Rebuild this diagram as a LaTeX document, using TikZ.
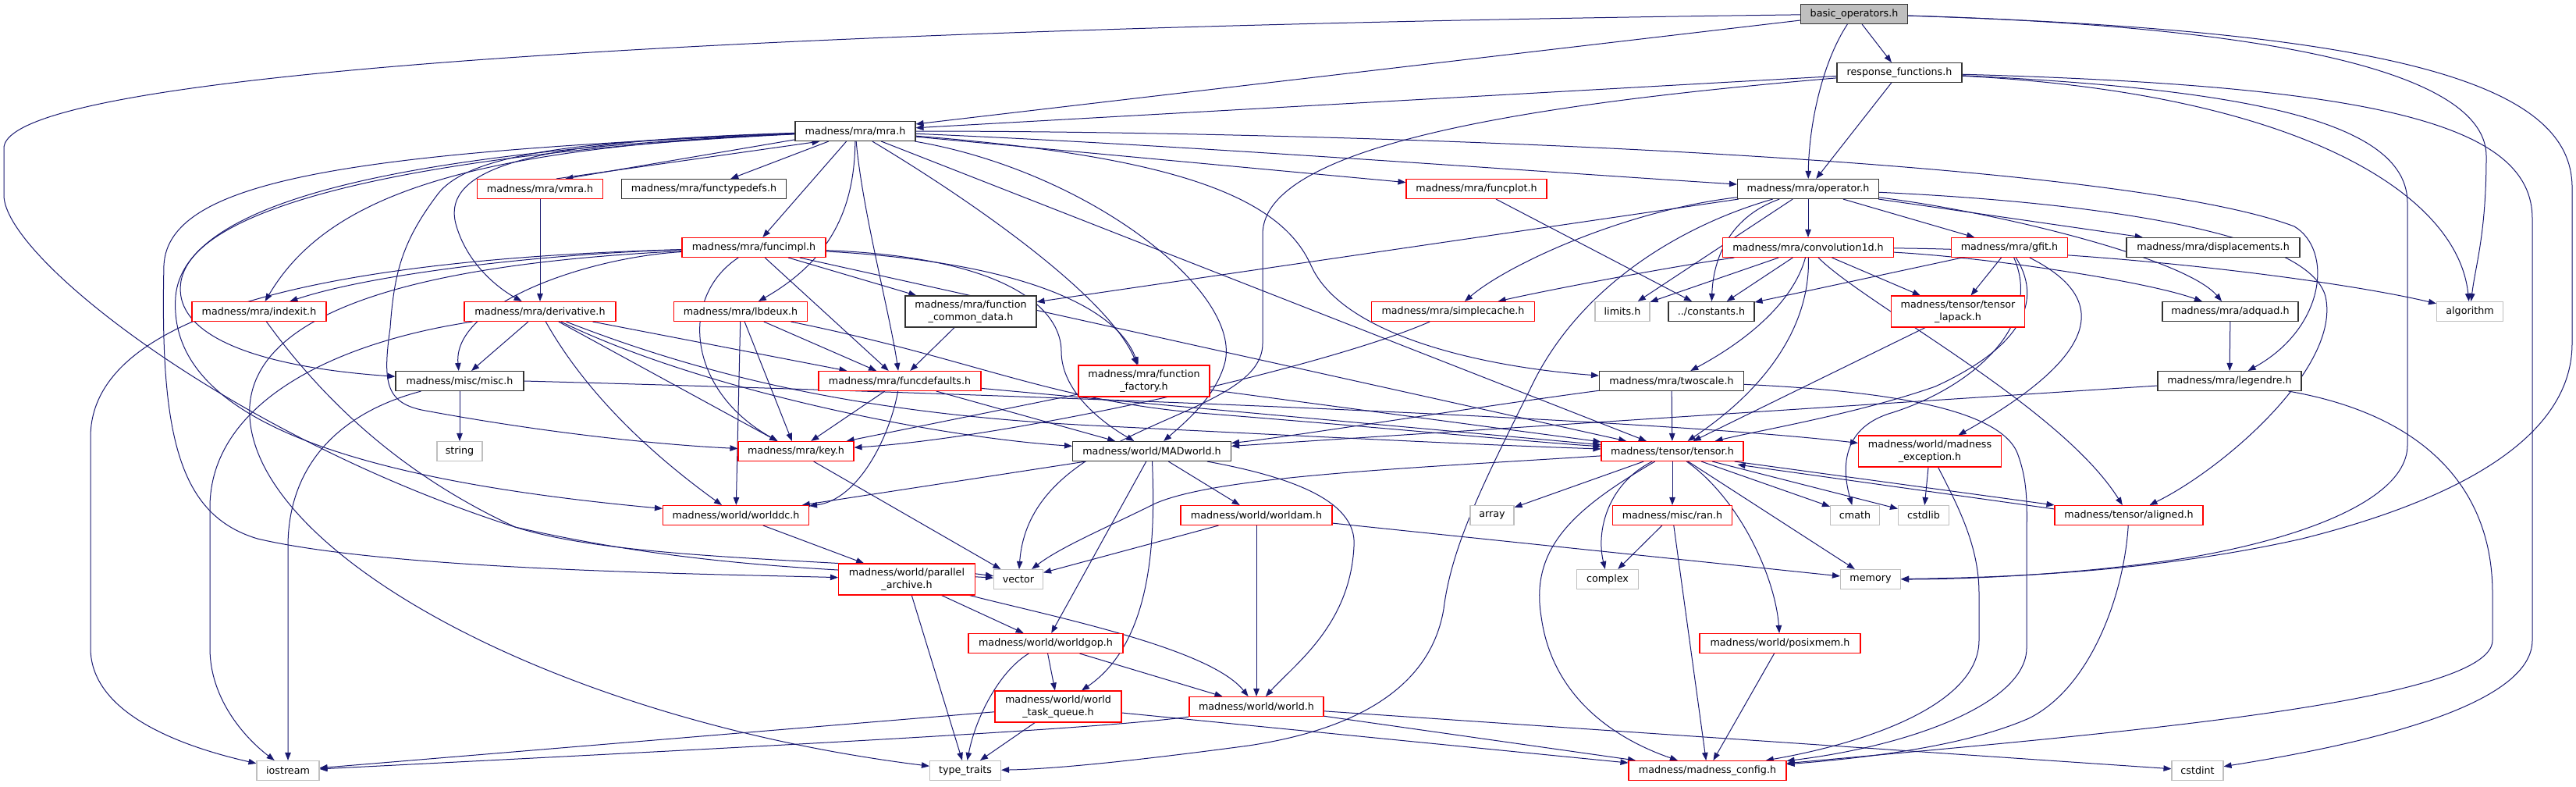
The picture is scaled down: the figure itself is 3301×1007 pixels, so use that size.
\documentclass[tikz,border=0pt]{standalone}
\usepackage{fontspec}
\setmainfont{DejaVu Sans}
\usetikzlibrary{arrows.meta}
\definecolor{edgec}{RGB}{25,25,112}
\definecolor{gsev}{RGB}{191,191,191}
\definecolor{colred}{RGB}{255,0,0}
\pgfdeclarelayer{bg}
\pgfsetlayers{bg,main}
\begin{document}
\begin{tikzpicture}[x=1pt,y=-1pt,
  base/.style={rectangle, inner sep=1pt, minimum height=25pt, line width=1.1pt, fill=white,
    font=\fontsize{12.7}{15.5}\selectfont, align=center},
  nblk/.style={base, draw=black!80},
  nred/.style={base, draw=colred},
  ngry/.style={base, draw=gsev},
  nroot/.style={base, draw=black!80, fill=gsev},
  two/.style={minimum height=40pt},
  edg/.style={draw=edgec, line width=1.0pt, -{Triangle[length=10pt,width=7.5pt]}},
]
\useasboundingbox (0,0) rectangle (3301,1007);
% ---------- nodes ----------
\node[nroot, minimum width=137pt] (bo) at (2376,18) {basic\_operators.h};
\node[nblk, minimum width=160pt] (rf) at (2434,93) {response\_functions.h};
\node[nblk, minimum width=154pt] (mra) at (1096,168) {madness/mra/mra.h};
\node[nred, minimum width=161pt] (vmra) at (692,242) {madness/mra/vmra.h};
\node[nblk, minimum width=211pt] (ftd) at (902,242) {madness/mra/functypedefs.h};
\node[nred, minimum width=184pt] (fimpl) at (966,317) {madness/mra/funcimpl.h};
\node[nred, minimum width=180pt] (fplot) at (1892,242) {madness/mra/funcplot.h};
\node[nblk, minimum width=181pt] (op) at (2317,242) {madness/mra/operator.h};
\node[nred, minimum width=219pt] (conv) at (2317,317) {madness/mra/convolution1d.h};
\node[nred, minimum width=149pt] (gfit) at (2575,317) {madness/mra/gfit.h};
\node[nblk, minimum width=222pt] (disp) at (2836,317) {madness/mra/displacements.h};
\node[nred, minimum width=172pt] (idx) at (332,399) {madness/mra/indexit.h};
\node[nred, minimum width=194pt] (deriv) at (692,399) {madness/mra/derivative.h};
\node[nblk, minimum width=164pt] (misc) at (589,488) {madness/misc/misc.h};
\node[ngry, minimum width=58pt] (string) at (589,578) {string};
\node[nred, minimum width=171pt] (lbdeux) at (949,399) {madness/mra/lbdeux.h};
\node[nblk, two, minimum width=168pt] (fcd) at (1244,399) {madness/mra/function\\\_common\_data.h};
\node[nred, minimum width=208pt] (fdef) at (1153,488) {madness/mra/funcdefaults.h};
\node[nred, two, minimum width=168pt] (ffac) at (1466,488) {madness/mra/function\\\_factory.h};
\node[nred, minimum width=148pt] (key) at (1020,578) {madness/mra/key.h};
\node[nblk, minimum width=203pt] (mad) at (1476,578) {madness/world/MADworld.h};
\node[nred, minimum width=187pt] (wdc) at (943,660) {madness/world/worlddc.h};
\node[nred, minimum width=194pt] (wdam) at (1610,660) {madness/world/worldam.h};
\node[nred, minimum width=209pt] (scache) at (1862,399) {madness/mra/simplecache.h};
\node[ngry, minimum width=70pt] (limits) at (2079,399) {limits.h};
\node[nblk, minimum width=110pt] (const) at (2193,399) {../constants.h};
\node[nred, two, minimum width=171pt] (tlap) at (2509,399) {madness/tensor/tensor\\\_lapack.h};
\node[nblk, minimum width=174pt] (adquad) at (2858,399) {madness/mra/adquad.h};
\node[ngry, minimum width=85pt] (algo) at (3165,399) {algorithm};
\node[nblk, minimum width=185pt] (twos) at (2142,488) {madness/mra/twoscale.h};
\node[nblk, minimum width=184pt] (leg) at (2857,488) {madness/mra/legendre.h};
\node[nred, minimum width=182pt] (tensor) at (2143,578) {madness/tensor/tensor.h};
\node[nred, two, minimum width=183pt] (mexc) at (2473,578) {madness/world/madness\\\_exception.h};
\node[ngry, minimum width=56pt] (array) at (1912,660) {array};
\node[nred, minimum width=153pt] (ran) at (2143,660) {madness/misc/ran.h};
\node[ngry, minimum width=63pt] (cmath) at (2377,660) {cmath};
\node[ngry, minimum width=65pt] (cstdlib) at (2465,660) {cstdlib};
\node[nred, minimum width=190pt] (aligned) at (2728,660) {madness/tensor/aligned.h};
\node[ngry, minimum width=63pt] (vector) at (1305,742) {vector};
\node[nred, two, minimum width=175pt] (par) at (1162,742) {madness/world/parallel\\\_archive.h};
\node[ngry, minimum width=79pt] (complex) at (2060,742) {complex};
\node[ngry, minimum width=77pt] (memory) at (2397,742) {memory};
\node[nred, minimum width=198pt] (wgop) at (1340,824) {madness/world/worldgop.h};
\node[nred, minimum width=206pt] (posix) at (2281,824) {madness/world/posixmem.h};
\node[nred, two, minimum width=162pt] (wtq) at (1356,905) {madness/world/world\\\_task\_queue.h};
\node[nred, minimum width=172pt] (world) at (1610,905) {madness/world/world.h};
\node[ngry, minimum width=80pt] (iostream) at (369,987) {iostream};
\node[ngry, minimum width=91pt] (tt) at (1237,987) {type\_traits};
\node[nred, minimum width=202pt] (mcfg) at (2188,987) {madness/madness\_config.h};
\node[ngry, minimum width=66pt] (cstdint) at (2816,987) {cstdint};
% ---------- edges ----------
\begin{pgfonlayer}{bg}
% basic_operators
\draw[edg] (bo) -- (rf);
\draw[edg] (bo) .. controls (2335,80) and (2318,160) .. (op);
\draw[edg] (bo) -- (mra);
\draw[edg] (bo) .. controls (1400,30) and (5,70) .. (5,190) -- (5,250) .. controls (5,330) and (300,560) .. (660,675) .. controls (900,730) and (1100,730) .. (vector);
\draw[edg] (bo) .. controls (2950,35) and (3186,100) .. (3186,200) .. controls (3186,300) and (3172,340) .. (algo);
\draw[edg] (bo) .. controls (3080,40) and (3296,110) .. (3296,240) -- (3296,440) .. controls (3296,560) and (3150,640) .. (2950,690) .. controls (2750,735) and (2550,740) .. (memory);
% response_functions
\draw[edg] (rf) -- (mra);
\draw[edg] (rf) -- (op);
\draw[edg] (rf) .. controls (2000,130) and (1618,180) .. (1618,300) -- (1618,440) .. controls (1618,540) and (1320,540) .. (vector);
\draw[edg] (rf) .. controls (2950,120) and (3150,250) .. (algo);
\draw[edg] (rf) .. controls (2900,115) and (3085,160) .. (3085,260) -- (3085,570) .. controls (3085,640) and (2950,690) .. (2800,715) .. controls (2650,738) and (2500,742) .. (memory);
\draw[edg] (rf) .. controls (3050,110) and (3245,160) .. (3245,280) -- (3245,820) .. controls (3245,900) and (3050,950) .. (cstdint);
% mra
\draw[edg] (mra.188) -- (vmra.22);
\draw[edg] (vmra.32) -- (mra.196);
\draw[edg] (mra) -- (ftd);
\draw[edg] (mra) -- (fimpl);
\draw[edg] (mra) -- (fplot);
\draw[edg] (mra) .. controls (1500,185) and (1900,215) .. (op);
\draw[edg] (mra) .. controls (600,190) and (420,250) .. (idx);
\draw[edg] (mra) .. controls (700,180) and (560,210) .. (585,290) .. controls (600,340) and (640,370) .. (deriv);
\draw[edg] (mra) .. controls (550,195) and (250,260) .. (232,360) .. controls (220,430) and (330,470) .. (misc);
\draw[edg] (mra) .. controls (450,195) and (215,230) .. (210,340) .. controls (205,560) and (230,660) .. (330,690) .. controls (500,730) and (900,735) .. (par);
\draw[edg] (mra) .. controls (500,195) and (235,260) .. (225,380) .. controls (215,520) and (400,610) .. (wdc);
\draw[edg] (mra) .. controls (750,180) and (600,195) .. (560,250) .. controls (515,310) and (505,350) .. (500,420) .. controls (490,490) and (495,515) .. (540,525) .. controls (700,555) and (850,570) .. (key);
\draw[edg] (mra) .. controls (1095,260) and (1070,330) .. (lbdeux);
\draw[edg] (mra) .. controls (1105,270) and (1140,400) .. (fdef);
\draw[edg] (mra) .. controls (1250,260) and (1420,380) .. (ffac);
\draw[edg] (mra) .. controls (1400,220) and (1600,380) .. (1568,470) .. controls (1555,510) and (1520,540) .. (mad);
\draw[edg] (mra) -- (tensor);
\draw[edg] (mra) .. controls (1500,200) and (1640,250) .. (1680,340) .. controls (1720,430) and (1900,470) .. (twos);
\draw[edg] (mra.east) .. controls (1700,168) and (2700,200) .. (2940,290) .. controls (2990,320) and (2980,420) .. (leg);
% vmra
\draw[edg] (vmra) -- (deriv);
% funcimpl
\draw[edg] (fimpl) .. controls (700,325) and (480,350) .. (idx);
\draw[edg] (fimpl) .. controls (750,330) and (580,390) .. (misc);
\draw[edg] (fimpl) .. controls (500,330) and (116,380) .. (116,560) -- (116,830) .. controls (116,920) and (250,960) .. (iostream);
\draw[edg] (fimpl) .. controls (600,335) and (330,380) .. (320,520) .. controls (310,700) and (700,920) .. (tt);
\draw[edg] (fimpl) -- (fcd);
\draw[edg] (fimpl) -- (fdef);
\draw[edg] (fimpl) .. controls (870,380) and (880,500) .. (key);
\draw[edg] (fimpl) .. controls (1300,335) and (1430,390) .. (ffac);
\draw[edg] (fimpl) .. controls (1300,330) and (1360,400) .. (1360,450) .. controls (1360,500) and (1410,540) .. (mad);
\draw[edg] (fimpl) -- (tensor);
% derivative
\draw[edg] (deriv) -- (misc);
\draw[edg] (deriv) .. controls (420,440) and (269,520) .. (269,650) -- (269,830) .. controls (269,900) and (320,950) .. (iostream);
\draw[edg] (deriv) -- (key);
\draw[edg] (deriv) -- (fdef);
\draw[edg] (deriv) .. controls (760,520) and (860,600) .. (wdc);
\draw[edg] (deriv) .. controls (900,500) and (1200,560) .. (mad);
\draw[edg] (deriv) .. controls (900,480) and (1100,530) .. (1400,545) .. controls (1700,560) and (1900,570) .. (tensor);
% misc
\draw[edg] (misc) -- (string);
\draw[edg] (misc) .. controls (430,530) and (369,600) .. (369,700) -- (iostream);
\draw[edg] (misc.east) .. controls (1300,505) and (2100,535) .. (mexc);
% lbdeux
\draw[edg] (lbdeux) -- (wdc);
\draw[edg] (lbdeux) -- (key);
\draw[edg] (lbdeux) -- (fdef);
\draw[edg] (lbdeux) .. controls (1250,460) and (1350,515) .. (1550,530) .. controls (1800,550) and (1950,565) .. (tensor);
% function_common_data, funcdefaults, function_factory
\draw[edg] (fcd) -- (fdef);
\draw[edg] (fdef) -- (key);
\draw[edg] (fdef) .. controls (1140,560) and (1100,640) .. (wdc);
\draw[edg] (fdef) -- (mad);
\draw[edg] (fdef) -- (tensor);
\draw[edg] (ffac) -- (key);
\draw[edg] (ffac) -- (tensor);
\draw[edg] (key) -- (vector);
\draw[edg] (scache) .. controls (1700,470) and (1300,560) .. (key);
\draw[edg] (fplot) -- (const);
% operator
\draw[edg] (op) -- (fcd);
\draw[edg] (op) .. controls (2080,270) and (1930,340) .. (scache);
\draw[edg] (op) -- (limits);
\draw[edg] (op) .. controls (2210,280) and (2195,340) .. (const);
\draw[edg] (op) -- (conv);
\draw[edg] (op) -- (gfit);
\draw[edg] (op) -- (disp);
\draw[edg] (op) .. controls (2550,270) and (2800,330) .. (adquad);
\draw[edg] (op) .. controls (2700,260) and (2960,300) .. (2980,380) .. controls (3000,470) and (2850,600) .. (aligned);
\draw[edg] (op) .. controls (2150,290) and (2020,370) .. (1960,500) .. controls (1900,620) and (1860,700) .. (1850,780) .. controls (1830,900) and (1700,940) .. (1600,955) .. controls (1450,975) and (1350,985) .. (tt);
% convolution1d
\draw[edg] (conv) .. controls (2150,340) and (1990,370) .. (scache);
\draw[edg] (conv) -- (limits);
\draw[edg] (conv) -- (const);
\draw[edg] (conv) .. controls (2300,380) and (2250,430) .. (twos);
\draw[edg] (conv) .. controls (2320,420) and (2260,500) .. (tensor);
\draw[edg] (conv) -- (tlap);
\draw[edg] (conv) .. controls (2550,330) and (2750,360) .. (adquad);
\draw[edg] (conv) .. controls (2700,320) and (3000,360) .. (algo);
\draw[edg] (conv) .. controls (2390,390) and (2640,520) .. (aligned);
% gfit
\draw[edg] (gfit) -- (const);
\draw[edg] (gfit) -- (tlap);
\draw[edg] (gfit) .. controls (2615,380) and (2600,440) .. (2480,495) .. controls (2380,530) and (2260,550) .. (tensor);
\draw[edg] (gfit) .. controls (2700,380) and (2700,450) .. (mexc);
\draw[edg] (gfit) .. controls (2620,420) and (2520,500) .. (2420,530) .. controls (2360,550) and (2360,600) .. (cmath);
% others
\draw[edg] (tlap) -- (tensor);
\draw[edg] (adquad) -- (leg);
\draw[edg] (twos) -- (tensor);
\draw[edg] (twos) .. controls (1900,520) and (1650,560) .. (mad);
\draw[edg] (twos) .. controls (2400,500) and (2560,520) .. (2585,580) .. controls (2600,620) and (2597,650) .. (2597,700) -- (2597,830) .. controls (2597,900) and (2450,955) .. (mcfg);
\draw[edg] (leg) -- (mad);
\draw[edg] (leg) .. controls (3100,530) and (3194,620) .. (3194,760) -- (3194,820) .. controls (3194,900) and (2700,940) .. (mcfg);
% tensor
\draw[edg] (tensor) -- (array);
\draw[edg] (tensor) -- (ran);
\draw[edg] (tensor) -- (cmath);
\draw[edg] (tensor) -- (cstdlib);
\draw[edg] ([xshift=-12pt]tensor.south east) -- (aligned.north west);
\draw[edg] ([yshift=-5pt]aligned.north west) -- ([xshift=-8pt,yshift=-4pt]tensor.south east);
\draw[edg] (tensor) -- (memory);
\draw[edg] (tensor) .. controls (2060,620) and (2045,680) .. (complex);
\draw[edg] (tensor) .. controls (2020,650) and (1960,700) .. (1975,790) .. controls (1990,900) and (2080,950) .. (mcfg);
\draw[edg] (tensor) .. controls (2230,640) and (2275,740) .. (posix);
\draw[edg] (tensor) .. controls (1800,600) and (1560,610) .. (1480,645) .. controls (1420,675) and (1360,700) .. (vector);
\draw[edg] (ran) -- (complex);
\draw[edg] (ran) -- (mcfg);
\draw[edg] (posix) -- (mcfg);
\draw[edg] (mexc) -- (cstdlib);
\draw[edg] (mexc) .. controls (2510,650) and (2536,700) .. (2536,760) -- (2536,820) .. controls (2536,900) and (2400,950) .. (mcfg);
\draw[edg] (aligned) .. controls (2722,760) and (2680,880) .. (2600,920) .. controls (2520,955) and (2400,970) .. (mcfg);
% world layer
\draw[edg] (world.south west) .. controls (1400,935) and (900,960) .. (iostream);
\draw[edg] (world) -- (mcfg);
\draw[edg] (world) -- (cstdint);
\draw[edg] (wtq) -- (tt);
\draw[edg] (wtq) -- (iostream);
\draw[edg] (wtq) -- (mcfg);
\draw[edg] (wgop) -- (wtq);
\draw[edg] (wgop) -- (world);
\draw[edg] (wgop) .. controls (1280,860) and (1250,920) .. (tt);
\draw[edg] (par) -- (wgop);
\draw[edg] (par) .. controls (1350,790) and (1550,830) .. (world);
\draw[edg] (par) -- (tt);
\draw[edg] (wdc) -- (par);
\draw[edg] (wdam) -- (vector);
\draw[edg] (wdam) -- (memory);
\draw[edg] (wdam) -- (world);
\draw[edg] (mad) -- (wdc);
\draw[edg] (mad) -- (wgop);
\draw[edg] (mad) .. controls (1480,680) and (1480,820) .. (wtq);
\draw[edg] (mad) -- (wdam);
\draw[edg] (mad) .. controls (1650,610) and (1740,640) .. (1735,700) .. controls (1730,800) and (1660,850) .. (world);
\draw[edg] (idx) .. controls (420,520) and (520,610) .. (660,675) .. controls (800,720) and (1100,715) .. (vector);
\end{pgfonlayer}
\end{tikzpicture}
\end{document}
